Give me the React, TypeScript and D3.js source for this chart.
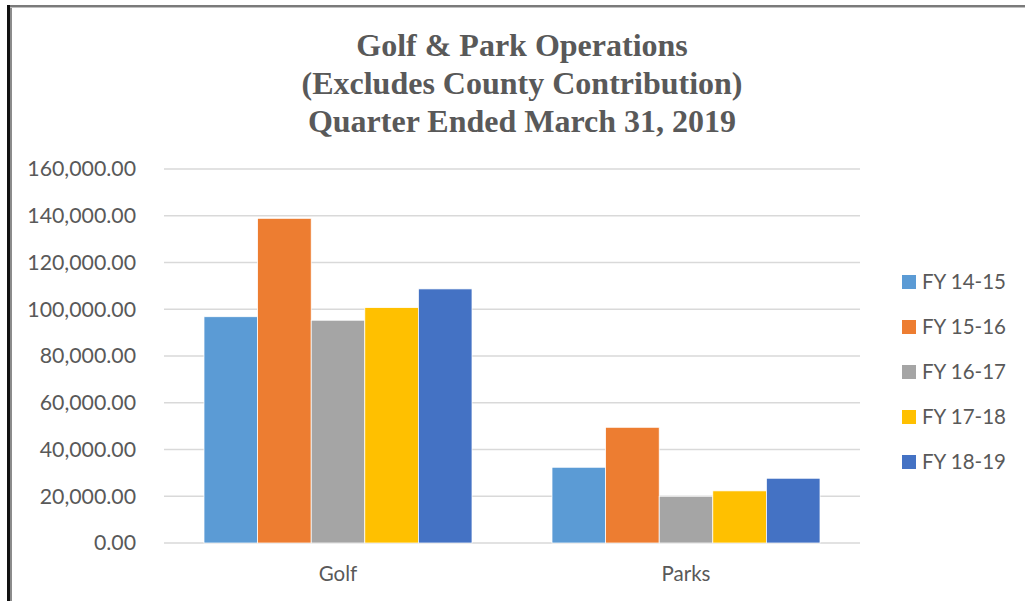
import React from "react";
import * as d3 from "d3";

const categories = ["Golf", "Parks"];
const seriesNames = ["FY 14-15", "FY 15-16", "FY 16-17", "FY 17-18", "FY 18-19"];
const seriesColors = ["#5b9bd5", "#ed7d31", "#a5a5a5", "#ffc000", "#4472c4"];
const golfValues = [96800, 138900, 95300, 100700, 108700];
const parksValues = [32400, 49500, 20000, 22300, 27700];
const yTicks = [0, 20000, 40000, 60000, 80000, 100000, 120000, 140000, 160000];
const titleLines = [
  "Golf & Park Operations",
  "(Excludes County Contribution)",
  "Quarter Ended March 31, 2019",
];

const W = 1025;
const H = 601;
const plot = { left: 164, right: 860, top: 169, bottom: 543 };
const textColor = "#595959";
const labelFont = "Lato, 'Open Sans', sans-serif";

export default function App() {
  const values = [golfValues, parksValues];
  const y = d3.scaleLinear().domain([0, 160000]).range([plot.bottom, plot.top]);
  const x0 = d3
    .scaleBand<string>()
    .domain(categories)
    .range([plot.left, plot.right])
    .paddingInner(0)
    .paddingOuter(0);
  const groupPad = 40;
  const x1 = d3
    .scaleBand<string>()
    .domain(seriesNames)
    .range([groupPad, x0.bandwidth() - groupPad])
    .padding(0);
  const fmt = d3.format(",.2f");

  return (
    <svg
      width={W}
      height={H}
      style={{ position: "absolute", left: 0, top: 0, background: "#fff" }}
    >
      <rect x={0} y={0} width={W} height={H} fill="#fff" />
      {/* borders */}
      <rect x={7} y={5} width={3} height={H - 5} fill="#111" />
      <rect x={10} y={7} width={2} height={H - 7} fill="#8c8c8c" />
      <rect x={10} y={5} width={W - 10} height={2} fill="#7a7a7a" />
      <rect x={10} y={7} width={W - 10} height={1} fill="#c0c0c0" />

      {/* title */}
      {titleLines.map((t, i) => (
        <text
          key={t}
          x={522}
          y={56 + i * 38}
          textAnchor="middle"
          fontFamily="'Liberation Serif', 'Times New Roman', serif"
          fontWeight="bold"
          fontSize={32}
          fill={textColor}
        >
          {t}
        </text>
      ))}

      {/* gridlines */}
      {yTicks.map((t) => (
        <line
          key={t}
          x1={plot.left}
          x2={plot.right}
          y1={y(t)}
          y2={y(t)}
          stroke="#d9d9d9"
          strokeWidth={1.5}
        />
      ))}

      {/* y labels */}
      {yTicks.map((t) => (
        <text
          key={"l" + t}
          x={136}
          y={y(t)}
          dy="0.35em"
          textAnchor="end"
          fontFamily={labelFont}
          fontSize={21.3}
          fill={textColor}
        >
          {fmt(t)}
        </text>
      ))}

      {/* bars */}
      {categories.map((c, ci) => (
        <g key={c} transform={`translate(${x0(c)},0)`}>
          {seriesNames.map((s, si) => {
            const v = values[ci][si];
            return (
              <rect
                key={s}
                x={x1(s)}
                y={y(v)}
                width={x1.bandwidth()}
                height={y(0) - y(v)}
                fill={seriesColors[si]}
                stroke="#fff"
                strokeWidth={0.75}
              />
            );
          })}
          <text
            x={x0.bandwidth() / 2}
            y={581}
            textAnchor="middle"
            fontFamily={labelFont}
            fontSize={20.5}
            fill={textColor}
          >
            {c}
          </text>
        </g>
      ))}

      {/* legend */}
      {seriesNames.map((s, i) => (
        <g key={s} transform={`translate(902,${282 + i * 45})`}>
          <rect x={0} y={-7} width={14} height={14} fill={seriesColors[i]} />
          <text
            x={20}
            y={0}
            dy="0.35em"
            fontFamily={labelFont}
            fontSize={20.5}
            fill={textColor}
          >
            {s}
          </text>
        </g>
      ))}
    </svg>
  );
}
